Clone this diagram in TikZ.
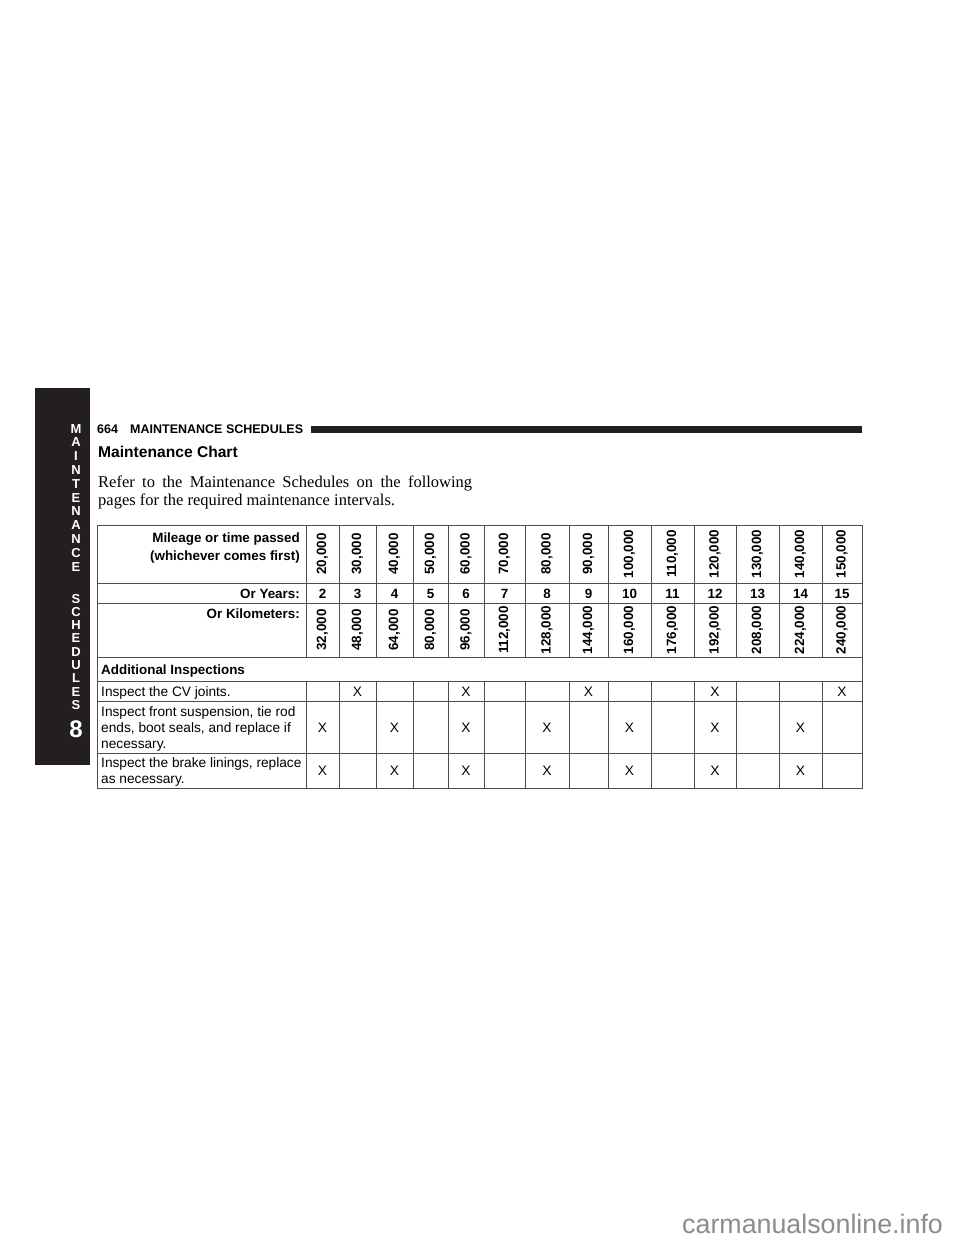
\documentclass[tikz,border=0pt]{standalone}
\usepackage{fontspec}
\setmainfont{Liberation Serif}
\setsansfont{Liberation Sans}
\definecolor{ink}{HTML}{231F20}
\definecolor{rulec}{HTML}{4D4D4D}
\definecolor{wmc}{HTML}{8C8C8C}
\begin{document}
\begin{tikzpicture}[x=1pt,y=-1pt,
  hd/.style={font=\sffamily\bfseries\fontsize{13.4}{16}\selectfont, inner sep=0pt},
  rot/.style={hd, rotate=90},
  cell/.style={font=\sffamily\fontsize{13.7}{16.5}\selectfont, inner sep=0pt},
  side/.style={font=\sffamily\bfseries\fontsize{13}{13}\selectfont, text=white, inner sep=0pt},
  grid/.style={draw=rulec, line width=1pt}]
\useasboundingbox[fill=white] (0,0) rectangle (960,1242);

% side tab
\fill[ink] (35,388) rectangle (90,765);
\foreach \l [count=\i from 0] in {M,A,I,N,T,E,N,A,N,C,E}
  \node[side, anchor=base] (sa\i) at (76,{433+\i*13.8}) {\l};
\foreach \l [count=\i from 0] in {S,C,H,E,D,U,L,E,S}
  \node[side, anchor=base] (sb\i) at (76,{603+\i*13.3}) {\l};
\node[side, anchor=base, font=\sffamily\bfseries\fontsize{24}{24}\selectfont] (tabnum) at (76,737) {8};

% running head
\node[anchor=base west, inner sep=0pt, font=\sffamily\bfseries\fontsize{12.5}{14}\selectfont] (pg) at (97,433) {664};
\node[anchor=base west, inner sep=0pt, font=\sffamily\bfseries\fontsize{12.5}{14}\selectfont] (sec) at (130,433) {MAINTENANCE SCHEDULES};
\fill[ink] (311,426) rectangle (862,433);

% title and intro
\node[anchor=base west, inner sep=0pt, font=\sffamily\bfseries\fontsize{15.6}{18}\selectfont] (title) at (98,457) {Maintenance Chart};
\node[anchor=base west, inner sep=0pt, font=\fontsize{16.5}{18}\selectfont] (intro1) at (98,487)
  {\makebox[374pt][s]{Refer to the Maintenance Schedules on the following}};
\node[anchor=base west, inner sep=0pt, font=\fontsize{16.5}{18}\selectfont] (intro2) at (98,505)
  {pages for the required maintenance intervals.};

% table grid
\draw[grid] (97,525) rectangle (862,788);
\foreach \yy in {583,603,657,681,701,753}
  \draw[grid] (97,\yy) -- (862,\yy);
\foreach \xx in {306,339,376,413,448,484,525,569,608,651,694,736,779,822}{
  \draw[grid] (\xx,525) -- (\xx,657);
  \draw[grid] (\xx,681) -- (\xx,788);
}

% header labels
\node[hd, anchor=base east] (h1) at (300,542) {Mileage or time passed};
\node[hd, anchor=base east] (h2) at (300,560) {(whichever comes first)};
\node[hd, anchor=base east] (hy) at (300,598) {Or Years:};
\node[hd, anchor=base east] (hk) at (300,618) {Or Kilometers:};

\foreach \cx/\mi/\yr/\km [count=\i] in {322.5/20/2/32, 357.5/30/3/48, 394.5/40/4/64, 430.5/50/5/80,
   466/60/6/96, 504.5/70/7/112, 547/80/8/128, 588.5/90/9/144, 629.5/100/10/160, 672.5/110/11/176,
   715/120/12/192, 757.5/130/13/208, 800.5/140/14/224, 842/150/15/240}{
  \coordinate (c\i) at (\cx,0);
  \node[rot] (m\i) at (\cx,554) {\mi,000};
  \node[hd, anchor=base] (y\i) at (\cx,598) {\yr};
  \node[rot] (k\i) at (\cx,630) {\km,000};
}

% body rows
\node[hd, anchor=base west] (add) at (101,674) {Additional Inspections};
\node[cell, anchor=base west] (r1) at (101,696) {Inspect the CV joints.};
\node[cell, anchor=base west] (r2a) at (101,716) {Inspect front suspension, tie rod};
\node[cell, anchor=base west] (r2b) at (101,732) {ends, boot seals, and replace if};
\node[cell, anchor=base west] (r2c) at (101,748) {necessary.};
\node[cell, anchor=base west] (r3a) at (101,767) {Inspect the brake linings, replace};
\node[cell, anchor=base west] (r3b) at (101,783) {as necessary.};

\foreach \c in {2,5,8,11,14}
  \node[cell, anchor=base] (xa\c) at (c\c |- 0,696) {X};
\foreach \c in {1,3,5,7,9,11,13}{
  \node[cell, anchor=base] (xb\c) at (c\c |- 0,732) {X};
  \node[cell, anchor=base] (xc\c) at (c\c |- 0,775) {X};
}

% watermark
\node[anchor=base west, inner sep=0pt, font=\sffamily\fontsize{26.8}{30}\selectfont, text=wmc] (wm) at (682,1233) {carmanualsonline.info};
\end{tikzpicture}
\end{document}
